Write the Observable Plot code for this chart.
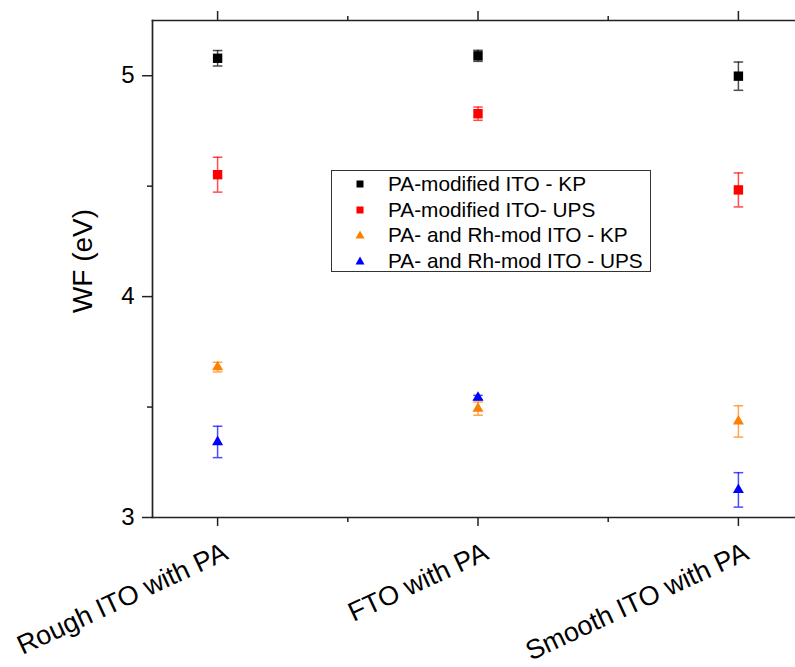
<!DOCTYPE html>
<html>
<head>
<meta charset="utf-8">
<script src="https://cdn.jsdelivr.net/npm/d3@7"></script>
<script src="https://cdn.jsdelivr.net/npm/@observablehq/plot@0.6"></script>
<style>
  html, body { margin: 0; padding: 0; background: #fff; }
  #wrap { position: relative; width: 795px; height: 667px; font-family: "Liberation Sans", Arial, sans-serif; }
  #legend { position: absolute; left: 331px; top: 170px; width: 320px; height: 102px; box-sizing: border-box;
            border: 1px solid #333; background: #fff; }
  .row { position: absolute; left: 0; height: 26px; display: flex; align-items: center; }
  .row svg { position: absolute; left: 20px; }
  .row span { position: absolute; left: 56px; font-size: 20.8px; white-space: nowrap; color: #000; line-height: 26px; }
</style>
</head>
<body>
<div id="wrap"></div>
<script>
// ---- data ----
const categories = ["Rough ITO with PA", "FTO with PA", "Smooth ITO with PA"];
const seriesNames = ["PA-modified ITO - KP", "PA-modified ITO- UPS", "PA- and Rh-mod ITO - KP", "PA- and Rh-mod ITO - UPS"];
const seriesColors = ["#000000", "#ff0000", "#ff8000", "#0000ff"];
const seriesSymbols = ["square", "square", "triangle", "triangle"];

const kpPA     = [5.079, 5.090, 4.998];
const kpPAErr  = [0.035, 0.025, 0.064];
const upsPA    = [4.552, 4.828, 4.483];
const upsPAErr = [0.079, 0.030, 0.077];
const kpRh     = [3.681, 3.493, 3.435];
const kpRhErr  = [0.022, 0.030, 0.071];
const upsRh    = [3.342, 3.543, 3.125];
const upsRhErr = [0.071, 0.010, 0.078];

const yTicks = [3, 4, 5];
const yMinorTicks = [3.5, 4.5];

// ---- build table ----
const seriesValues = [kpPA, upsPA, kpRh, upsRh];
const seriesErrors = [kpPAErr, upsPAErr, kpRhErr, upsRhErr];
const rows = [];
seriesNames.forEach((name, s) => {
  categories.forEach((c, i) => {
    rows.push({cat: i, series: name, value: seriesValues[s][i], err: seriesErrors[s][i],
               color: seriesColors[s], symbol: seriesSymbols[s]});
  });
});
const catIdx = categories.map((c, i) => i);
const minorIdx = catIdx.slice(1).map(i => i - 0.5);

const capSymbol = {
  draw(context, size) {
    const w = Math.sqrt(size / Math.PI);
    context.moveTo(-w, 0);
    context.lineTo(w, 0);
  }
};

const chart = Plot.plot({
  width: 795,
  height: 667,
  marginLeft: 152,
  marginRight: 0,
  marginTop: 20,
  marginBottom: 150,
  style: {fontFamily: "'Liberation Sans', Arial, sans-serif", background: "#fff", color: "#000"},
  x: {domain: [-0.25, 2.25], range: [152, 803], label: null},
  y: {domain: [3, 5.25], label: null},
  color: {type: "identity"},
  marks: [
    // axes & ticks
    Plot.axisY({ticks: yTicks, tickSize: 10, tickPadding: 8, fontSize: 24, label: null,
                tickFormat: d3.format("d"), strokeWidth: 1.5, stroke: "#222"}),
    Plot.axisY({ticks: yMinorTicks, tickSize: 5, tickFormat: () => "", label: null, strokeWidth: 1.5, stroke: "#222"}),
    Plot.axisX({ticks: catIdx, tickSize: 9, tickFormat: () => "", label: null, strokeWidth: 1.5, stroke: "#222"}),
    Plot.axisX({ticks: minorIdx, tickSize: 5, tickFormat: () => "", label: null, strokeWidth: 1.5, stroke: "#222"}),
    Plot.axisX({anchor: "top", ticks: catIdx, tickSize: 10, tickFormat: () => "", label: null, strokeWidth: 1.5, stroke: "#222"}),
    Plot.axisX({anchor: "top", ticks: minorIdx, tickSize: 5, tickFormat: () => "", label: null, strokeWidth: 1.5, stroke: "#222"}),
    Plot.frame({anchor: "top", stroke: "#222", strokeWidth: 1.7}),
    Plot.frame({anchor: "left", stroke: "#222", strokeWidth: 1.7}),
    Plot.frame({anchor: "bottom", stroke: "#222", strokeWidth: 1.7}),
    // category labels
    Plot.text(categories, {x: (d, i) => i, frameAnchor: "bottom", text: d => d, rotate: -25,
                           textAnchor: "end", lineAnchor: "bottom", dx: 12, dy: 41, fontSize: 27, fill: "#000"}),
    // y title
    Plot.text(["WF (eV)"], {frameAnchor: "left", text: d => d, rotate: -90, lineAnchor: "bottom",
                            textAnchor: "middle", dx: -61, dy: -8, fontSize: 28, fill: "#000"}),
    // error bars
    Plot.ruleX(rows, {x: "cat", y1: d => d.value - d.err, y2: d => d.value + d.err,
                      stroke: "color", strokeWidth: 1.5, strokeOpacity: 0.7}),
    Plot.dot(rows, {x: "cat", y: d => d.value + d.err, symbol: capSymbol, r: 4.8,
                    stroke: "color", strokeWidth: 1.5, strokeOpacity: 0.7}),
    Plot.dot(rows, {x: "cat", y: d => d.value - d.err, symbol: capSymbol, r: 4.8,
                    stroke: "color", strokeWidth: 1.5, strokeOpacity: 0.7}),
    // markers
    Plot.dot(rows.filter(d => d.symbol === "square"), {x: "cat", y: "value", symbol: "square", r: 5.3, fill: "color"}),
    Plot.dot(rows.filter(d => d.symbol === "triangle"), {x: "cat", y: "value", symbol: "triangle", r: 4.1, fill: "color"})
  ]
});
const wrap = document.getElementById("wrap");
wrap.appendChild(chart);

// legend
const legend = document.createElement("div");
legend.id = "legend";
seriesNames.forEach((name, s) => {
  const row = document.createElement("div");
  row.className = "row";
  row.style.top = (s * 25.5) + "px";
  const shape = seriesSymbols[s] === "square"
    ? `<rect x="4.5" y="4.5" width="7" height="7" fill="${seriesColors[s]}"/>`
    : `<path d="M8,3.5 L12.5,11.5 L3.5,11.5 Z" fill="${seriesColors[s]}"/>`;
  row.innerHTML = `<svg width="16" height="16" style="top:5px">${shape}</svg><span>${name}</span>`;
  legend.appendChild(row);
});
wrap.appendChild(legend);
</script>
</body>
</html>
